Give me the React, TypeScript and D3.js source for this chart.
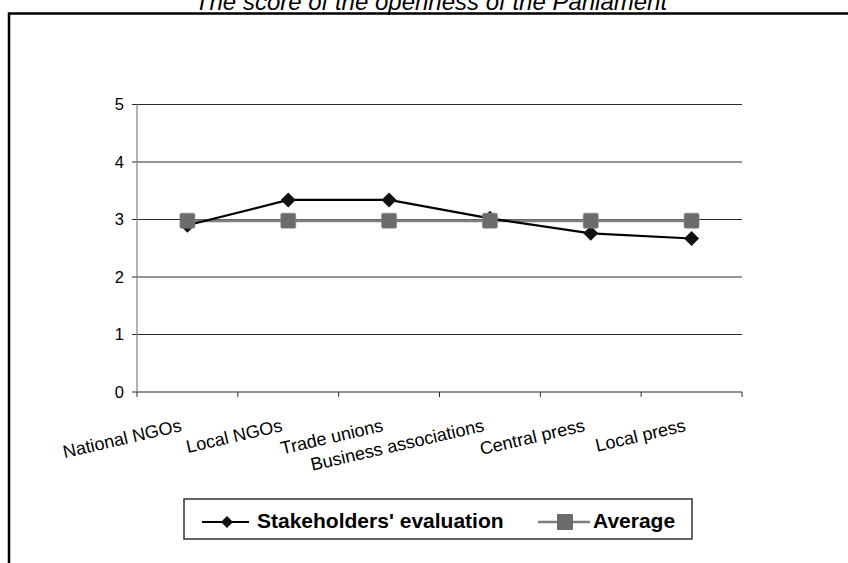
import React from "react";
import * as d3 from "d3";

const categories = [
  "National NGOs",
  "Local NGOs",
  "Trade unions",
  "Business associations",
  "Central press",
  "Local press",
];
const stakeholders = [2.9, 3.34, 3.34, 3.02, 2.76, 2.67];
const average = [2.98, 2.98, 2.98, 2.98, 2.98, 2.98];
const yTicks = [0, 1, 2, 3, 4, 5];
const title = "The score of the openness of the Parliament";
const legendLabels = ["Stakeholders' evaluation", "Average"];

const W = 848;
const H = 563;
const left = 137;
const right = 742;
const top = 104.5;
const bottom = 392;
const FONT = "Arial, 'Liberation Sans', sans-serif";

export default function App() {
  const x = d3.scaleBand<string>().domain(categories).range([left, right]);
  const y = d3.scaleLinear().domain([0, 5]).range([bottom, top]);
  const cx = (c: string) => (x(c) as number) + x.bandwidth() / 2;

  const line = d3
    .line<number>()
    .x((_, i) => cx(categories[i]))
    .y((d) => y(d));

  const diamond = (px: number, py: number, r: number) =>
    `M${px},${py - r}L${px + r},${py}L${px},${py + r}L${px - r},${py}Z`;

  const tickXs = [...categories.map((c) => x(c) as number), right];

  return (
    <svg
      width={W}
      height={H}
      style={{ position: "absolute", left: 0, top: 0, background: "#fff" }}
      fontFamily={FONT}
    >
      <rect x={0} y={0} width={W} height={H} fill="#fff" />
      {/* title (clipped at top, as in the reference) */}
      <text
        x={431}
        y={10}
        textAnchor="middle"
        fontSize={24}
        fontStyle="italic"
        fill="#000"
      >
        {title}
      </text>
      {/* outer frame */}
      <path d={`M9,${H}V13.5H${W}`} fill="none" stroke="#000" strokeWidth={2.5} />

      {/* gridlines */}
      {yTicks.map((t) => (
        <g key={t}>
          {t > 0 && (
            <line x1={left} x2={right} y1={y(t)} y2={y(t)} stroke="#2a2a2a" strokeWidth={1} />
          )}
          <line x1={left - 5} x2={left} y1={y(t)} y2={y(t)} stroke="#2a2a2a" strokeWidth={1} />
          <text
            x={124}
            y={y(t)}
            dy="0.36em"
            textAnchor="end"
            fontSize={16.5}
            fill="#000"
          >
            {t}
          </text>
        </g>
      ))}
      {/* y axis */}
      <line x1={left} x2={left} y1={top} y2={bottom} stroke="#808080" strokeWidth={1.2} />
      {/* x axis */}
      <line x1={left} x2={right} y1={bottom} y2={bottom} stroke="#2a2a2a" strokeWidth={1.2} />
      {tickXs.map((tx, i) => (
        <line key={i} x1={tx} x2={tx} y1={bottom} y2={bottom + 5} stroke="#2a2a2a" strokeWidth={1} />
      ))}
      {/* x labels */}
      {categories.map((c) => {
        const ex = cx(c) - 5;
        const ey = 431;
        return (
          <text
            key={c}
            x={ex}
            y={ey}
            textAnchor="end"
            fontSize={18}
            fill="#000"
            transform={`rotate(-13,${ex},${ey})`}
          >
            {c}
          </text>
        );
      })}

      {/* Average series */}
      <path d={line(average) || ""} fill="none" stroke="#7f7f7f" strokeWidth={3} />
      {/* Stakeholders series */}
      <path d={line(stakeholders) || ""} fill="none" stroke="#000" strokeWidth={2.2} />
      {stakeholders.map((v, i) => (
        <path key={i} d={diamond(cx(categories[i]), y(v), 7.5)} fill="#111" />
      ))}
      {average.map((v, i) => (
        <rect
          key={i}
          x={cx(categories[i]) - 7.5}
          y={y(v) - 7.5}
          width={15}
          height={15}
          rx={1.5}
          fill="#6b6b6b"
          stroke="#888"
          strokeWidth={0.6}
        />
      ))}

      {/* legend */}
      <rect x={184} y={499} width={508} height={40} fill="#fff" stroke="#333" strokeWidth={1.5} />
      <line x1={202} x2={249} y1={522} y2={522} stroke="#000" strokeWidth={2} />
      <path d={diamond(227, 522, 6)} fill="#111" />
      <text x={257} y={527.5} fontSize={21} fontWeight="bold" fill="#000">
        {legendLabels[0]}
      </text>
      <line x1={538} x2={590} y1={522} y2={522} stroke="#7f7f7f" strokeWidth={2.5} />
      <rect x={557} y={514} width={16} height={16} rx={1} fill="#6b6b6b" />
      <text x={593} y={527.5} fontSize={21} fontWeight="bold" fill="#000">
        {legendLabels[1]}
      </text>
    </svg>
  );
}
